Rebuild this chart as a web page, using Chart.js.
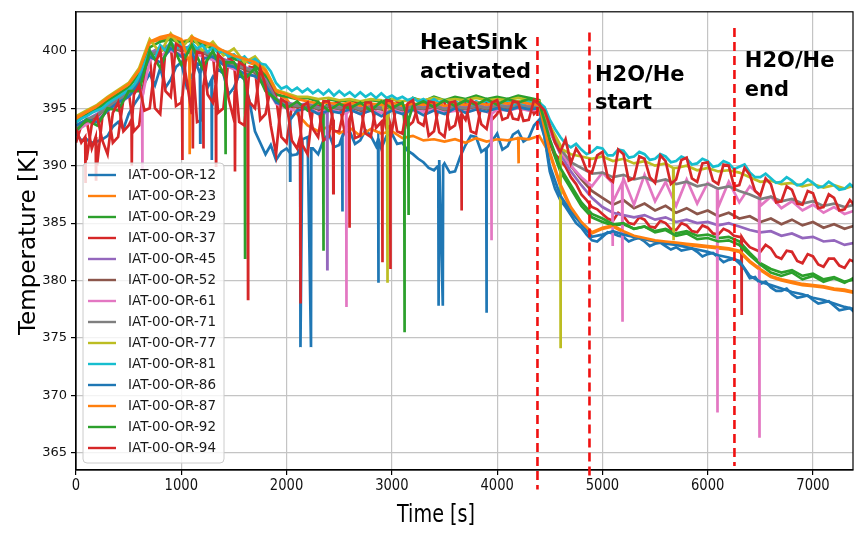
<!DOCTYPE html>
<html><head><meta charset="utf-8">
<script src="https://cdn.jsdelivr.net/npm/chart.js@4.4.0/dist/chart.umd.min.js"></script>
<style>html,body{margin:0;padding:0;background:#fff;}canvas{display:block}</style>
</head><body>
<canvas id="c" width="858" height="542"></canvas>
<script>
const TIME = [0,100,200,300,400,500,600,700,800,900,1000,1100,1200,1300,1400,1500,1600,1700,1800,1900,2000,2100,2200,2300,2400,2500,2600,2700,2800,2900,3000,3100,3200,3300,3400,3500,3600,3700,3800,3900,4000,4100,4200,4300,4400,4500,4600,4700,4800,4900,5000,5100,5200,5300,5400,5500,5600,5700,5800,5900,6000,6100,6200,6300,6400,6500,6600,6700,6800,6900,7000,7100,7200,7300,7400];
const TIME_FINE = [0,50,100,150,200,250,300,350,400,450,500,550,600,650,700,750,800,850,900,950,1000,1050,1100,1150,1200,1250,1300,1350,1400,1450,1500,1550,1600,1650,1700,1750,1800,1850,1900,1950,2000,2050,2100,2150,2200,2250,2300,2350,2400,2450,2500,2550,2600,2650,2700,2750,2800,2850,2900,2950,3000,3050,3100,3150,3200,3250,3300,3350,3400,3450,3500,3550,3600,3650,3700,3750,3800,3850,3900,3950,4000,4050,4100,4150,4200,4250,4300,4350,4400,4450,4500,4550,4600,4650,4700,4750,4800,4850,4900,4950,5000,5050,5100,5150,5200,5250,5300,5350,5400,5450,5500,5550,5600,5650,5700,5750,5800,5850,5900,5950,6000,6050,6100,6150,6200,6250,6300,6350,6400,6450,6500,6550,6600,6650,6700,6750,6800,6850,6900,6950,7000,7050,7100,7150,7200,7250,7300,7350,7400];

const LABELS = ['IAT-00-OR-12','IAT-00-OR-23','IAT-00-OR-29','IAT-00-OR-37','IAT-00-OR-45','IAT-00-OR-52','IAT-00-OR-61','IAT-00-OR-71','IAT-00-OR-77','IAT-00-OR-81','IAT-00-OR-86','IAT-00-OR-87','IAT-00-OR-92','IAT-00-OR-94'];
const COLORS = ['#1f77b4','#ff7f0e','#2ca02c','#d62728','#9467bd','#8c564b','#e377c2','#7f7f7f','#bcbd22','#17becf','#1f77b4','#ff7f0e','#2ca02c','#d62728'];

// 50 s samples
const T12 = [392.8,392.2, 392.3,392.0, 392.1,392.3, 392.6,393.4, 393.8,393.2, 394.5,395.3, 396.0,397.2, 398.0,397.0, 398.5,396.8, 397.5,398.6,
 399.0,396.9, 397.8,398.9, 398.8,396.8, 397.5,398.4, 398.0,396.2, 396.8,397.9, 397.5,395.5, 393.0,392.0, 391.0,391.8, 390.5,391.2,
 391.5,390.9, 391.0,392.3, 392.5,391.5, 391.0,392.2, 392.8,391.6, 391.8,392.9, 393.0,391.9, 392.2,393.1, 392.6,391.7, 391.5,392.6,
 392.8,391.9, 392.0,391.3, 391.0,390.6, 390.3,389.8, 389.6,390.5, 390.2,389.4, 389.5,390.8, 391.8,392.6, 392.5,391.2, 391.0,392.1,
 392.8,391.4, 391.7,392.7, 393.0,392.1, 392.4,393.5, 394.0,392.5, 389.5,388.0, 387.0,386.4, 385.7,385.0, 384.6,384.0, 383.5,383.4,
 383.8,384.2, 384.1,383.9, 383.8,383.4, 383.6,383.7, 383.4,383.0, 383.2,383.3, 383.0,382.7, 382.9,382.6, 382.7,382.8, 382.5,382.1,
 382.3,382.4, 382.0,381.6, 381.8,381.9, 381.5,381.0, 380.2,380.3, 379.7,379.9, 379.4,379.1, 379.1,379.3, 378.8,378.5, 378.6,378.7,
 378.3,378.0, 378.1,378.2, 377.8,377.4, 377.5,377.6, 377.2];
const T37 = [392.0,393.5, 394.0,391.5, 390.0,394.2, 395.0,392.0, 392.5,395.8, 396.5,393.0, 393.5,397.5, 399.5,395.0, 394.5,400.2, 400.5,395.2,
 395.5,400.0, 400.2,393.8, 394.0,399.5, 399.8,394.6, 395.0,399.4, 399.0,393.8, 393.5,398.6, 398.5,394.0, 394.5,396.8, 396.0,392.5,
 392.0,395.2, 395.5,391.8, 391.0,395.0, 395.3,392.2, 392.5,395.4, 395.5,393.0, 393.5,395.6, 395.3,392.8, 392.5,395.3, 395.5,393.2,
 393.0,395.6, 395.5,393.4, 393.8,395.2, 395.4,392.6, 393.0,395.4, 395.6,393.2, 393.5,395.5, 395.5,393.0, 392.8,395.3, 395.6,394.0,
 394.5,395.7, 395.5,394.1, 394.0,395.5, 395.6,394.5, 395.0,393.8, 392.0,391.0, 390.5,389.9, 389.0,388.4, 387.5,387.0, 386.4,386.2,
 385.8,385.4, 385.2,385.9, 385.6,385.0, 384.9,385.5, 385.3,384.7, 384.6,385.2, 385.0,384.5, 384.4,385.0, 384.8,384.3, 384.2,384.8,
 384.6,384.1, 384.0,384.5, 384.3,383.9, 383.8,383.4, 382.9,382.7, 382.5,383.1, 382.8,382.1, 381.9,382.6, 382.5,381.7, 381.5,382.3,
 382.1,381.4, 381.2,381.9, 381.9,381.3, 381.1,381.8, 381.6];
const T81 = [393.8,394.1, 394.3,394.6, 394.8,395.0, 395.4,395.7, 396.0,396.3, 396.6,397.0, 397.8,398.9, 400.0,399.3, 400.5,400.0, 400.8,400.2,
 400.6,400.1, 400.7,400.2, 400.5,399.9, 400.3,399.8, 400.0,399.5, 399.7,399.2, 399.5,399.0, 399.3,398.9, 398.8,398.2, 397.2,396.7,
 396.9,396.5, 396.8,396.4, 396.7,396.3, 396.6,396.2, 396.6,396.1, 396.5,396.1, 396.4,396.0, 396.4,396.0, 396.3,395.9, 396.3,395.9,
 396.1,395.8, 396.0,395.7, 395.9,395.6, 395.8,395.5, 395.8,395.5, 395.7,395.4, 395.6,395.4, 395.7,395.3, 395.6,395.4, 395.7,395.3,
 395.6,395.4, 395.7,395.3, 395.6,395.4, 395.6,395.3, 395.5,395.1, 394.0,393.2, 392.5,391.9, 391.6,391.9, 391.4,391.0, 391.2,391.6,
 391.5,390.9, 390.9,391.4, 391.3,390.7, 390.8,391.2, 391.0,390.5, 390.6,391.0, 390.8,390.3, 390.4,390.8, 390.6,390.1, 390.2,390.6,
 390.4,389.9, 390.0,390.4, 390.2,389.7, 389.9,390.1, 389.4,389.0, 389.0,389.3, 388.9,388.5, 388.6,389.0, 388.7,388.3, 388.4,388.8,
 388.5,388.1, 388.2,388.6, 388.3,387.9, 388.0,388.4, 388.0];
const T94 = [393.2,392.0, 390.5,393.6, 394.3,392.2, 391.0,394.6, 395.5,393.0, 393.5,396.2, 397.0,394.8, 395.0,398.8, 400.0,396.5, 396.0,400.6,
 400.3,397.5, 394.5,399.9, 399.8,396.2, 395.5,399.7, 399.2,395.8, 394.0,399.0, 398.7,395.5, 395.0,398.5, 397.0,393.5, 391.0,395.8,
 395.5,392.2, 391.5,395.2, 395.5,393.2, 392.5,395.6, 395.6,393.0, 393.0,395.2, 395.4,392.4, 392.6,395.5, 395.5,393.3, 393.8,395.7,
 395.6,393.0, 392.8,395.4, 395.7,393.8, 393.5,395.6, 395.5,392.9, 392.5,395.5, 395.6,393.4, 394.0,395.7, 395.4,393.6, 393.2,395.5,
 395.7,394.0, 394.2,395.6, 395.5,393.9, 394.0,395.7, 395.3,394.8, 393.5,392.0, 391.2,392.3, 390.2,391.5, 390.8,389.6, 389.4,390.9,
 391.2,389.0, 388.6,391.4, 391.0,388.7, 388.9,390.8, 390.6,389.0, 388.5,390.9, 390.4,388.4, 388.8,390.5, 390.7,388.9, 388.6,390.2,
 390.3,388.7, 388.4,390.1, 390.0,388.2, 388.3,389.8, 389.2,387.8, 387.4,388.9, 388.4,386.8, 386.9,388.2, 387.9,386.7, 386.6,387.8,
 387.6,386.3, 386.4,387.5, 387.2,386.1, 386.2,387.0, 386.5];

// 100 s samples
const T23 = [394,394.5,395,395.8,396.4,397,398.2,400.7,401,401.2, 400.8,401,400.6,400.3,399.9,399.4,399.1,398.8,398,396.3, 395.8,394.5,393.5,393,393.4,392.8,393.3,392.6,393.2,392.8, 393,392.4,392.6,392.2,392.3,392.1,392.3,392,392.4,392.1, 392.3,392.2,392.4,392.3,392.6, 391,388.2,386.2,385,384.1, 384.5,384.7,384.2,383.8,383.6,383.4,383.3,383.2,383.1,383, 382.9,382.8,382.7,382.5,381.6,380.9,380.3,380,379.8,379.6, 379.5,379.4,379.2,379.1,378.9];
const T29 = [393.8,394.4,394.9,395.6,396.2,396.8,398,400.3,400.8,401, 400.7,400.9,400.5,400.2,399.8,399.3,399,398.7,397.8,396.2, 396,395.8,395.9,395.6,395.8,395.6,395.7,395.5,395.7,395.6, 395.8,395.5,395.9,395.6,396,395.7,396,395.8,396.1,395.8, 396,395.8,396.1,395.9,395.7, 392,389.5,388,386.5,385.5, 385.1,384.8,384.9,384.5,384.7,384.3,384.5,384.1,384.3,383.9, 384,383.7,383.8,383.4,382.4,381.5,381,380.7,380.9,380.4, 380.6,380.1,380.3,379.9,380.1];
const T45 = [393.5,394,394.5,395.2,395.8,396.4,397.5,399.8,400.3,400.5, 400.2,400.4,400,399.7,399.3,398.9,398.6,398.3,397.5,395.8, 395.5,395.3,395.4,395.1,395.3,395.1,395.3,395,395.2,395.1, 395.3,395,395.2,395.1,395.3,395,395.2,395.1,395.3,395.1, 395.3,395.2,395.4,395.2,395.3, 393,391,389.5,388.3,387.2, 386.4,385.9,385.7,385.5,385.7,385.3,385.5,385.1,385.3,385, 385.1,384.8,385,384.7,384.4,384.2,384.3,383.9,384.1,383.7, 383.8,383.4,383.5,383.1,383.3];
const T52 = [393.3,393.8,394.3,395,395.6,396.2,397.3,399.5,400,400.3, 400,400.2,399.8,399.5,399.1,398.7,398.4,398.1,397.2,395.6, 395.3,395.1,395.2,394.9,395.1,394.9,395.1,394.8,395,394.9, 395.1,394.8,395,394.9,395.1,394.8,395,394.9,395.1,394.9, 395.1,395,395.2,395,395.1, 393.2,391.5,390,388.8,387.8, 387.2,386.6,387,386.3,386.7,386.1,386.5,385.9,386.3,385.8, 386.1,385.6,385.9,385.4,385.6,385.1,385.4,384.9,385.3,384.8, 385.1,384.6,384.9,384.5,384.8];
const T61 = [393,393.6,394,394.8,395.3,396,397,399.2,399.6,400, 399.7,399.9,399.5,399.2,398.8,398.4,398.1,397.8,396.9,395.4, 395,394.8,395,394.6,394.9,394.7,394.9,394.5,394.8,394.6, 394.9,394.6,394.8,394.7,394.9,394.6,394.8,394.7,394.9,394.7, 394.9,394.8,395,394.8,394.9, 393,391.3,390,389,388.2, 389.4,386.8,388.9,386.6,389.2,386.9,388.6,386.5,388.8,386.7, 388.5,386.4,388.6,386.8,388.2,386.5,387.3,386.3,386.9,386.1, 386.6,385.9,386.4,385.8,386.1];
const T71 = [393.4,394,394.4,395.1,395.7,396.3,397.4,399.6,400.1,400.4, 400.1,400.3,399.9,399.6,399.2,398.8,398.5,398.2,397.3,395.7, 395.4,395.2,395.3,395,395.2,395,395.2,394.9,395.1,395, 395.2,394.9,395.1,395,395.2,394.9,395.1,395,395.2,395, 395.2,395.1,395.3,395.1,395.2, 393.3,391.5,390.3,389.8,389.3, 389.4,389,389.2,388.8,389,388.6,388.8,388.4,388.6,388.2, 388.4,388,388.2,387.8,387.5,387.1,387.3,386.9,387.1,386.7, 386.9,386.5,386.7,386.4,386.6];
const T77 = [394.3,394.8,395.3,396,396.6,397.2,398.5,401,399.8,401.5, 400.2,401.3,400,400.8,399.6,400.2,399,399.5,398.4,396.6, 396.3,396,396,395.8,395.9,395.7,395.8,395.6,395.8,395.7, 395.8,395.6,395.8,395.7,395.9,395.7,395.8,395.7,395.9,395.7, 395.8,395.7,395.9,395.7,395.6, 393.5,391.8,391,390.8,390.6, 390.8,390.4,390.6,390.2,390.4,390,390.2,389.8,390,389.6, 389.8,389.5,389.6,389.4,389,388.6,388.7,388.4,388.5,388.2, 388.4,388.1,388.3,388,388.3];
const T86 = [393.5,394,393.8,394.8,395.5,396,397.2,399.5,399,400.2, 399.5,400,399.3,399.5,398.8,398.6,398,397.8,397,395.5, 395.2,394.8,395,394.5,394.8,394.6,394.9,394.5,394.8,394.3, 394.8,394.5,394.9,394.4,394.8,394.5,395,394.6,394.9,394.7, 395,394.8,395.1,394.9,395, 390,387.4,386,384.9,383.8, 384,384.3,384,383.8,383.6,383.4,383.2,383.1,382.9,382.7, 382.5,382.2,382,381.7,380.4,379.9,379.6,379.3,379,378.8, 378.5,378.3,378,377.7,377.5];
const T87 = [394.2,394.7,395.2,395.9,396.5,397.1,398.3,400.8,401.2,401.4, 401,401.2,400.8,400.5,400,399.6,399.3,399,398.3,396.5, 396.2,395.8,395.6,395.4,395.5,395.3,395.5,395.2,395.4,395.3, 395.5,395.2,395.4,395.3,395.5,395.2,395.4,395.3,395.5,395.3, 395.5,395.4,395.6,395.4,395.3, 391.2,388.4,386.4,385.1,384.2, 384.6,384.8,384.3,383.9,383.7,383.5,383.4,383.3,383.2,383.1, 383,382.9,382.8,382.6,381.7,381,380.4,380.1,379.9,379.7, 379.6,379.5,379.3,379.2,379];
const T92 = [393,394,393.5,395,394.8,396.5,396.5,400,398.5,400.8, 398.8,400.5,398.5,400,398,399,397.5,398.5,396.5,395.8, 395,395.6,394.8,395.5,394.8,395.4,395,395.5,394.8,395.6, 395,395.5,395.2,395.6,395.1,395.7,395.2,395.7,395.3,395.8, 395.3,395.8,395.5,395.8,395.5, 392.3,389.8,388.3,386.8,385.8, 385.4,384.9,385,384.5,384.7,384.2,384.4,383.9,384.1,383.6, 383.7,383.4,383.5,383.1,382.2,381.4,380.7,380.4,380.7,380.1, 380.4,379.9,380.2,379.8,380.3];

// short excursions: [time, level before, lowest value, duration]
const SP12 = [[1290,397.5,390.5,0],[2132,391.5,374.2,100],[2530,392.5,386,0],[2872,392.3,379.8,0],[3444,390,377.8,40],[3899,391.5,377.2,0]];
const SP23 = [[4204,392.4,390.2,0]];
const SP29 = [[1606,398,382,0],[2350,394.5,382.6,0],[3120,394,375.5,0]];
const SP37 = [[190,392.5,388.8,0],[1010,396,390.5,0],[1210,397,391.5,0],[2597,394,384.6,0],[2986,393.5,381,0],[6322,383.8,377,0]];
const SP45 = [[2387,394.5,381,0]];
const SP52 = [];
const SP61 = [[630,396,389.5,0],[2568,394.5,377.7,0],[3946,394.5,383.5,0],[5096,388.5,383,0],[5190,388.5,376.4,0],[6092,388,368.5,0],[6491,387.5,366.3,0]];
const SP71 = [];
const SP77 = [[2958,394,379.8,0],[4603,391.5,374.1,0],[5675,389.8,383.5,0]];
const SP81 = [];
const SP86 = [[1180,398,392,0],[2034,394,388.7,0]];
const SP87 = [[1080,399,391,0]];
const SP92 = [[1420,399,391,0],[3158,394,385.7,0]];
const SP94 = [[90,392.5,388.5,0],[530,394,390,0],[1110,397.5,391.5,0],[1330,397,390,0],[1510,396.5,389.5,0],[1634,396,378.4,0],[2132,392.5,378,0],[2444,394,387.6,0],[2910,393,381.6,0],[3662,394.5,386.1,0]];

const SERIES = [T12,T23,T29,T37,T45,T52,T61,T71,T77,T81,T86,T87,T92,T94];
const SERIES_TIME = [TIME_FINE,TIME,TIME,TIME_FINE,TIME,TIME,TIME,TIME,TIME,TIME_FINE,TIME,TIME,TIME,TIME_FINE];
const SPIKES = [SP12,SP23,SP29,SP37,SP45,SP52,SP61,SP71,SP77,SP81,SP86,SP87,SP92,SP94];

const X_TICKS = [0,1000,2000,3000,4000,5000,6000,7000];
const Y_TICKS = [365,370,375,380,385,390,395,400];

const EVENT_T = [4383, 4877, 6254];
const EVENT_TOP = [401.2, 401.6, 402.0];
const EVENT_BOTTOM = [361.8, 362.8, 363.85];

const NOTE_TEXT = [['HeatSink','activated'],['H2O/He','start'],['H2O/He','end']];
const NOTE_X = [3267, 4929, 6353];
const NOTE_Y = [[400.15,397.65],[397.4,394.97],[398.6,396.1]];

function buildPoints(times, vals, spikes){
  const pts = times.map((t,i)=>({x:t, y:vals[i]}));
  spikes.forEach(([t,top,low,w])=>{
    pts.push({x:t-3,y:top},{x:t,y:low},{x:t+w,y:low},{x:t+w+3,y:top});
  });
  pts.sort((a,b)=>a.x-b.x);
  return pts;
}

const datasets = SERIES.map((vals,i)=>({
  label: LABELS[i],
  data: buildPoints(SERIES_TIME[i], vals, SPIKES[i]),
  borderColor: COLORS[i],
  backgroundColor: COLORS[i],
  borderWidth: 2.7,
  pointRadius: 0,
  tension: 0,
  fill: false,
  order: SERIES.length - 1 - i
}));

const FONT = '"DejaVu Sans", sans-serif';

const deco = {
  id: 'deco',
  beforeDraw(chart){
    const c = chart.ctx;
    c.save(); c.fillStyle = '#fff'; c.fillRect(0,0,chart.width,chart.height); c.restore();
  },
  afterDatasetsDraw(chart){
    const c = chart.ctx, a = chart.chartArea, xs = chart.scales.x, ys = chart.scales.y;
    c.save();
    c.strokeStyle = '#000'; c.lineWidth = 1.2;
    c.strokeRect(a.left, a.top, a.right - a.left, a.bottom - a.top);
    // x tick labels (narrow)
    c.fillStyle = '#111'; c.font = '16px ' + FONT; c.textAlign = 'center'; c.textBaseline = 'top';
    X_TICKS.forEach(v=>{
      c.save(); c.translate(xs.getPixelForValue(v), a.bottom + 8); c.scale(0.82,1);
      c.fillText(String(v), 0, 0); c.restore();
    });
    // event lines
    c.strokeStyle = '#f01010'; c.lineWidth = 2.6; c.setLineDash([9,5]);
    EVENT_T.forEach((t,i)=>{
      const px = xs.getPixelForValue(t);
      c.beginPath();
      c.moveTo(px, ys.getPixelForValue(EVENT_TOP[i]));
      c.lineTo(px, ys.getPixelForValue(EVENT_BOTTOM[i]));
      c.stroke();
    });
    c.setLineDash([]);
    // notes
    c.fillStyle = '#000'; c.font = 'bold 21px ' + FONT; c.textAlign = 'left'; c.textBaseline = 'alphabetic';
    NOTE_TEXT.forEach((lines,i)=>{
      lines.forEach((s,j)=>{
        c.fillText(s, xs.getPixelForValue(NOTE_X[i]), ys.getPixelForValue(NOTE_Y[i][j]));
      });
    });
    // axis titles
    c.save(); c.translate(436, 522); c.scale(0.8,1);
    c.font = '24px ' + FONT; c.textAlign = 'center'; c.textBaseline = 'alphabetic';
    c.fillText('Time [s]', 0, 0);
    c.restore();
    c.save(); c.translate(29, 242); c.rotate(-Math.PI/2);
    c.font = '23px ' + FONT; c.textAlign = 'center'; c.textBaseline = 'middle';
    c.fillText('Temperature [K]', 0, 0);
    c.restore();
    // legend
    const lx = 83, ly = 163, lw = 141, lh = 300, r = 4;
    c.fillStyle = 'rgba(255,255,255,0.8)'; c.strokeStyle = '#cccccc'; c.lineWidth = 1;
    c.beginPath();
    c.moveTo(lx+r, ly); c.lineTo(lx+lw-r, ly); c.arcTo(lx+lw, ly, lx+lw, ly+r, r);
    c.lineTo(lx+lw, ly+lh-r); c.arcTo(lx+lw, ly+lh, lx+lw-r, ly+lh, r);
    c.lineTo(lx+r, ly+lh); c.arcTo(lx, ly+lh, lx, ly+lh-r, r);
    c.lineTo(lx, ly+r); c.arcTo(lx, ly, lx+r, ly, r); c.closePath();
    c.fill(); c.stroke();
    c.font = '13.5px ' + FONT; c.textAlign = 'left'; c.textBaseline = 'middle';
    chart.data.datasets.forEach((ds,i)=>{
      const yy = 175 + i*21;
      c.strokeStyle = ds.borderColor; c.lineWidth = 2.4;
      c.beginPath(); c.moveTo(88, yy); c.lineTo(116, yy); c.stroke();
      c.fillStyle = '#1a1a1a';
      c.fillText(ds.label, 128, yy + 0.5);
    });
    c.restore();
  }
};

new Chart(document.getElementById('c'), {
  type: 'line',
  data: { datasets },
  options: {
    responsive: false, animation: false, devicePixelRatio: 1,
    layout: { padding: { left: 0, right: 5, top: 7, bottom: 0 } },
    plugins: { legend: { display: false }, tooltip: { enabled: false } },
    scales: {
      x: {
        type: 'linear', min: 0, max: 7380,
        afterBuildTicks: s => { s.ticks = X_TICKS.map(v => ({ value: v })); },
        afterFit: s => { s.height = 72; },
        grid: { color: '#c4c4c4', lineWidth: 1.2, tickLength: 5, tickColor: '#000', drawTicks: true },
        border: { display: true, color: '#000', width: 1.2 },
        ticks: { display: false, autoSkip: false }
      },
      y: {
        type: 'linear', min: 363.5, max: 403.4,
        afterBuildTicks: s => { s.ticks = Y_TICKS.map(v => ({ value: v })); },
        afterFit: s => { s.width = 76; },
        grid: { color: '#c4c4c4', lineWidth: 1.2, tickLength: 5, tickColor: '#000', drawTicks: true },
        border: { display: true, color: '#000', width: 1.2 },
        ticks: { font: { family: FONT, size: 13 }, color: '#111', padding: 4, autoSkip: false }
      }
    }
  },
  plugins: [deco]
});
</script>
</body></html>
